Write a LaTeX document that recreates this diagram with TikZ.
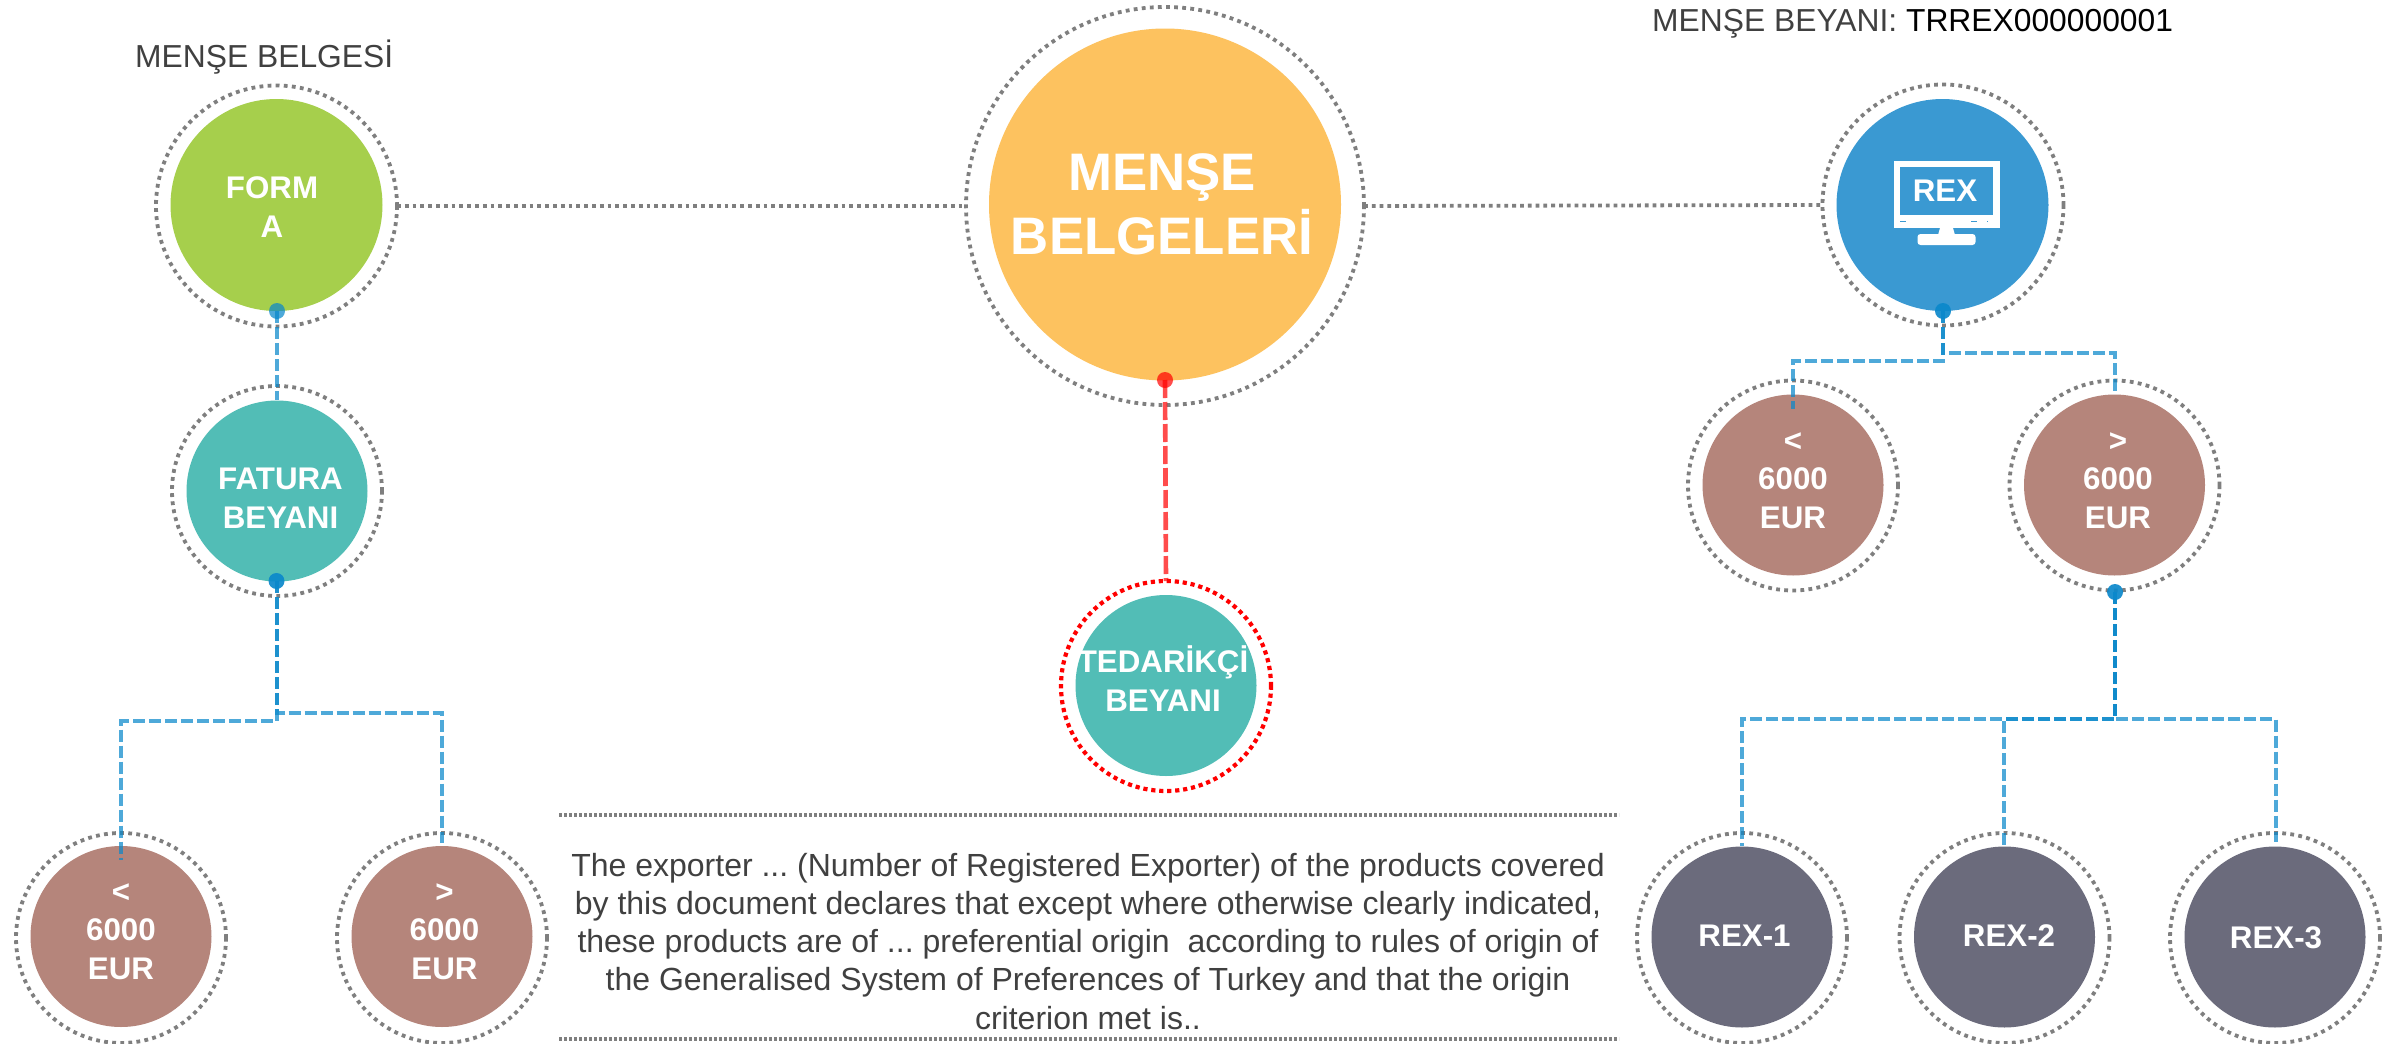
\documentclass[tikz,border=0pt]{standalone}
\usepackage{fontspec}
\setmainfont{Liberation Sans}
\frenchspacing
\definecolor{cGreen}{HTML}{A6CF4C}
\definecolor{cTeal}{HTML}{52BDB6}
\definecolor{cBrown}{HTML}{B5857B}
\definecolor{cSlate}{HTML}{6B6B7C}
\definecolor{cYellow}{HTML}{FDC25F}
\definecolor{cBlue}{HTML}{3A99D2}
\definecolor{cRing}{HTML}{7F7F7F}
\definecolor{cLine}{HTML}{0B88CB}
\definecolor{cText}{HTML}{404040}
\tikzset{
  ring/.style={circle,draw=cRing,line width=3.8pt,dash pattern=on 3.8pt off 4.3pt,inner sep=0pt,outer sep=0pt,fill=none},
  redring/.style={ring,draw=red,line width=4.2pt,dash pattern=on 4.2pt off 3.8pt},
  disc/.style={circle,inner sep=0pt,outer sep=0pt,draw=none},
  smallring/.style={ring,minimum size=210pt},
  smalldisc/.style={disc,minimum size=181pt},
  midring/.style={ring,minimum size=241pt},
  middisc/.style={disc,minimum size=212pt},
  dsc/.style={anchor=base,text=white,inner sep=0pt,align=center,font=\fontsize{31.3}{38.4}\selectfont\bfseries},
  hugetxt/.style={dsc,font=\fontsize{52.8}{64}\selectfont\bfseries},
  lbl/.style={anchor=base west,inner sep=0pt,text=cText,font=\fontsize{31.8}{38}\selectfont},
  body/.style={anchor=base,inner sep=0pt,text=cText,align=center,font=\fontsize{32}{38.2}\selectfont},
  greyrule/.style={draw=cRing,line width=3.8pt,dash pattern=on 3.8pt off 4pt},
  thinrule/.style={draw=cRing,line width=3.6pt,dash pattern=on 3pt off 2pt},
  bluedash/.style={draw=cLine,opacity=.72,line width=4pt,dash pattern=on 12pt off 4pt},
  reddash/.style={draw=red,opacity=.7,line width=4.6pt,dash pattern=on 18pt off 4pt},
  bluedot/.style={circle,fill=cLine,opacity=.72,inner sep=0pt,outer sep=0pt,minimum size=16pt},
  bluedotdark/.style={bluedot,opacity=.92},
  reddot/.style={circle,fill=red,opacity=.7,inner sep=0pt,outer sep=0pt,minimum size=16pt},
}
\begin{document}
\begin{tikzpicture}[x=1pt,y=-1pt]
\useasboundingbox (0,0) rectangle (2394,1044);
\fill[white] (0,0) rectangle (2394,1044);

% centre
\node[ring,minimum size=398pt] (ringMain) at (1165,206) {};
\node[disc,fill=cYellow,minimum size=352pt] (main) at (1165,204.5) {};
\node[ring,redring,minimum size=210pt] (ringTed) at (1166,686) {};
\node[smalldisc,fill=cTeal] (ted) at (1166,685.5) {};

% left
\node[midring] (ringForm) at (276.5,206) {};
\node[middisc,fill=cGreen] (form) at (276.5,205) {};
\node[smallring] (ringFat) at (277,491) {};
\node[smalldisc,fill=cTeal] (fat) at (277,491) {};
\node[smallring] (ringL1) at (121,938) {};
\node[smalldisc,fill=cBrown] (l1) at (121,936.5) {};
\node[smallring] (ringL2) at (442,938) {};
\node[smalldisc,fill=cBrown] (l2) at (442,936.5) {};

% right
\node[midring] (ringRex) at (1943,205) {};
\node[middisc,fill=cBlue] (rex) at (1942.5,205) {};
\node[smallring] (ringR1) at (1793,485.5) {};
\node[smalldisc,fill=cBrown] (r1) at (1793,485) {};
\node[smallring] (ringR2) at (2114.5,485.5) {};
\node[smalldisc,fill=cBrown] (r2) at (2114.5,485) {};
\node[smallring] (ringX1) at (1742,938) {};
\node[smalldisc,fill=cSlate] (x1) at (1742,937) {};
\node[smallring] (ringX2) at (2004.5,938) {};
\node[smalldisc,fill=cSlate] (x2) at (2004.5,937) {};
\node[smallring] (ringX3) at (2275,938) {};
\node[smalldisc,fill=cSlate] (x3) at (2275,937) {};

% grey dotted links and rules
\draw[greyrule] (ringForm.east) -- (ringMain.west);
\draw[greyrule] (ringMain.east) -- (ringRex.west);
\coordinate (ruleAw) at (559,815); \coordinate (ruleAe) at (1619,815);
\coordinate (ruleBw) at (559,1039); \coordinate (ruleBe) at (1619,1039);
\draw[thinrule] (ruleAw) -- (ruleAe);
\draw[thinrule] (ruleBw) -- (ruleBe);

% connector dots
\node[bluedot] (dotForm) at (277,311) {};
\node[bluedotdark] (dotFat) at (276.5,581) {};
\node[bluedotdark] (dotRex) at (1943,311) {};
\node[bluedotdark] (dotR2) at (2115,592) {};
\node[reddot] (dotMain) at (1165,380) {};

% connector junctions
\coordinate (fatDown) at (277,400);
\coordinate (jFL) at (276.5,721); \coordinate (cFL) at (121,721); \coordinate (eFL) at (121,860);
\coordinate (jFR) at (276.5,713); \coordinate (cFR) at (442,713); \coordinate (eFR) at (442,843);
\coordinate (jRL) at (1943,361); \coordinate (cRL) at (1793,361); \coordinate (eRL) at (1793,409);
\coordinate (jRR) at (1943,353); \coordinate (cRR) at (2115,353); \coordinate (eRR) at (2115,391);
\coordinate (jX) at (2115,719);
\coordinate (cX1) at (1742,719); \coordinate (eX1) at (1742,846);
\coordinate (cX2) at (2004,719); \coordinate (eX2) at (2004,846);
\coordinate (cX3) at (2275.5,719); \coordinate (eX3) at (2275.5,842);

% connectors
\draw[bluedash] (dotForm.center) -- (fatDown);
\draw[bluedash] (dotFat.center) -- (jFL) -- (cFL) -- (eFL);
\draw[bluedash] (dotFat.center) -- (jFR) -- (cFR) -- (eFR);
\draw[bluedash] (dotRex.center) -- (jRL) -- (cRL) -- (eRL);
\draw[bluedash] (dotRex.center) -- (jRR) -- (cRR) -- (eRR);
\draw[bluedash] (dotR2.center) -- (jX) -- (cX1) -- (eX1);
\draw[bluedash] (dotR2.center) -- (jX) -- (cX2) -- (eX2);
\draw[bluedash] (dotR2.center) -- (jX) -- (cX3) -- (eX3);
\draw[reddash] (dotMain.center) -- (ringTed.north);

% monitor icon
\fill[white] (1893.5,161) rectangle (1999.5,228);
\fill[cBlue] (1900,167) rectangle (1993,215);
\fill[white] (1940,228) -- (1953,228) -- (1955,235) -- (1938,235) -- cycle;
\fill[white,rounded corners=3pt] (1917.5,245) -- (1917.5,234) -- (1975.5,234) -- (1975.5,245) -- cycle;
\fill[cBlue] (1900,221) rectangle (1906,222);
\fill[cBlue] (1971,221) rectangle (1977,222);
\fill[cBlue] (1987,221) rectangle (1988,222);

% texts
\node[lbl] (tLeft) at (135,67) {MENŞE BELGESİ};
\node[lbl] (tRight) at (1652,31) {MENŞE BEYANI: \textcolor{black}{TRREX000000001}};
\node[hugetxt] (tMain) at (1162,254) {MENŞE\\BELGELERİ};
\node[dsc] (tForm) at (272,237) {FORM\\A};
\node[dsc] (tFat) at (280.5,528) {FATURA\\BEYANI};
\node[dsc] (tTed) at (1163,711) {TEDARİKÇİ\\BEYANI};
\node[dsc] (tL1) at (121,979) {<\\6000\\EUR};
\node[dsc] (tL2) at (444.5,979) {>\\6000\\EUR};
\node[dsc] (tR1) at (1793,528) {<\\6000\\EUR};
\node[dsc] (tR2) at (2118,528) {>\\6000\\EUR};
\node[dsc] (tRex) at (1945,201) {REX};
\node[dsc] (tX1) at (1744.5,946) {REX-1};
\node[dsc] (tX2) at (2009,946) {REX-2};
\node[dsc] (tX3) at (2276,948) {REX-3};
\node[body] (tBody) at (1088,1029) {The exporter ... (Number of Registered Exporter) of the products covered\\by this document declares that except where otherwise clearly indicated,\\these products are of ... preferential origin\ \ according to rules of origin of\\the Generalised System of Preferences of Turkey and that the origin\\criterion met is..};
\end{tikzpicture}
\end{document}
